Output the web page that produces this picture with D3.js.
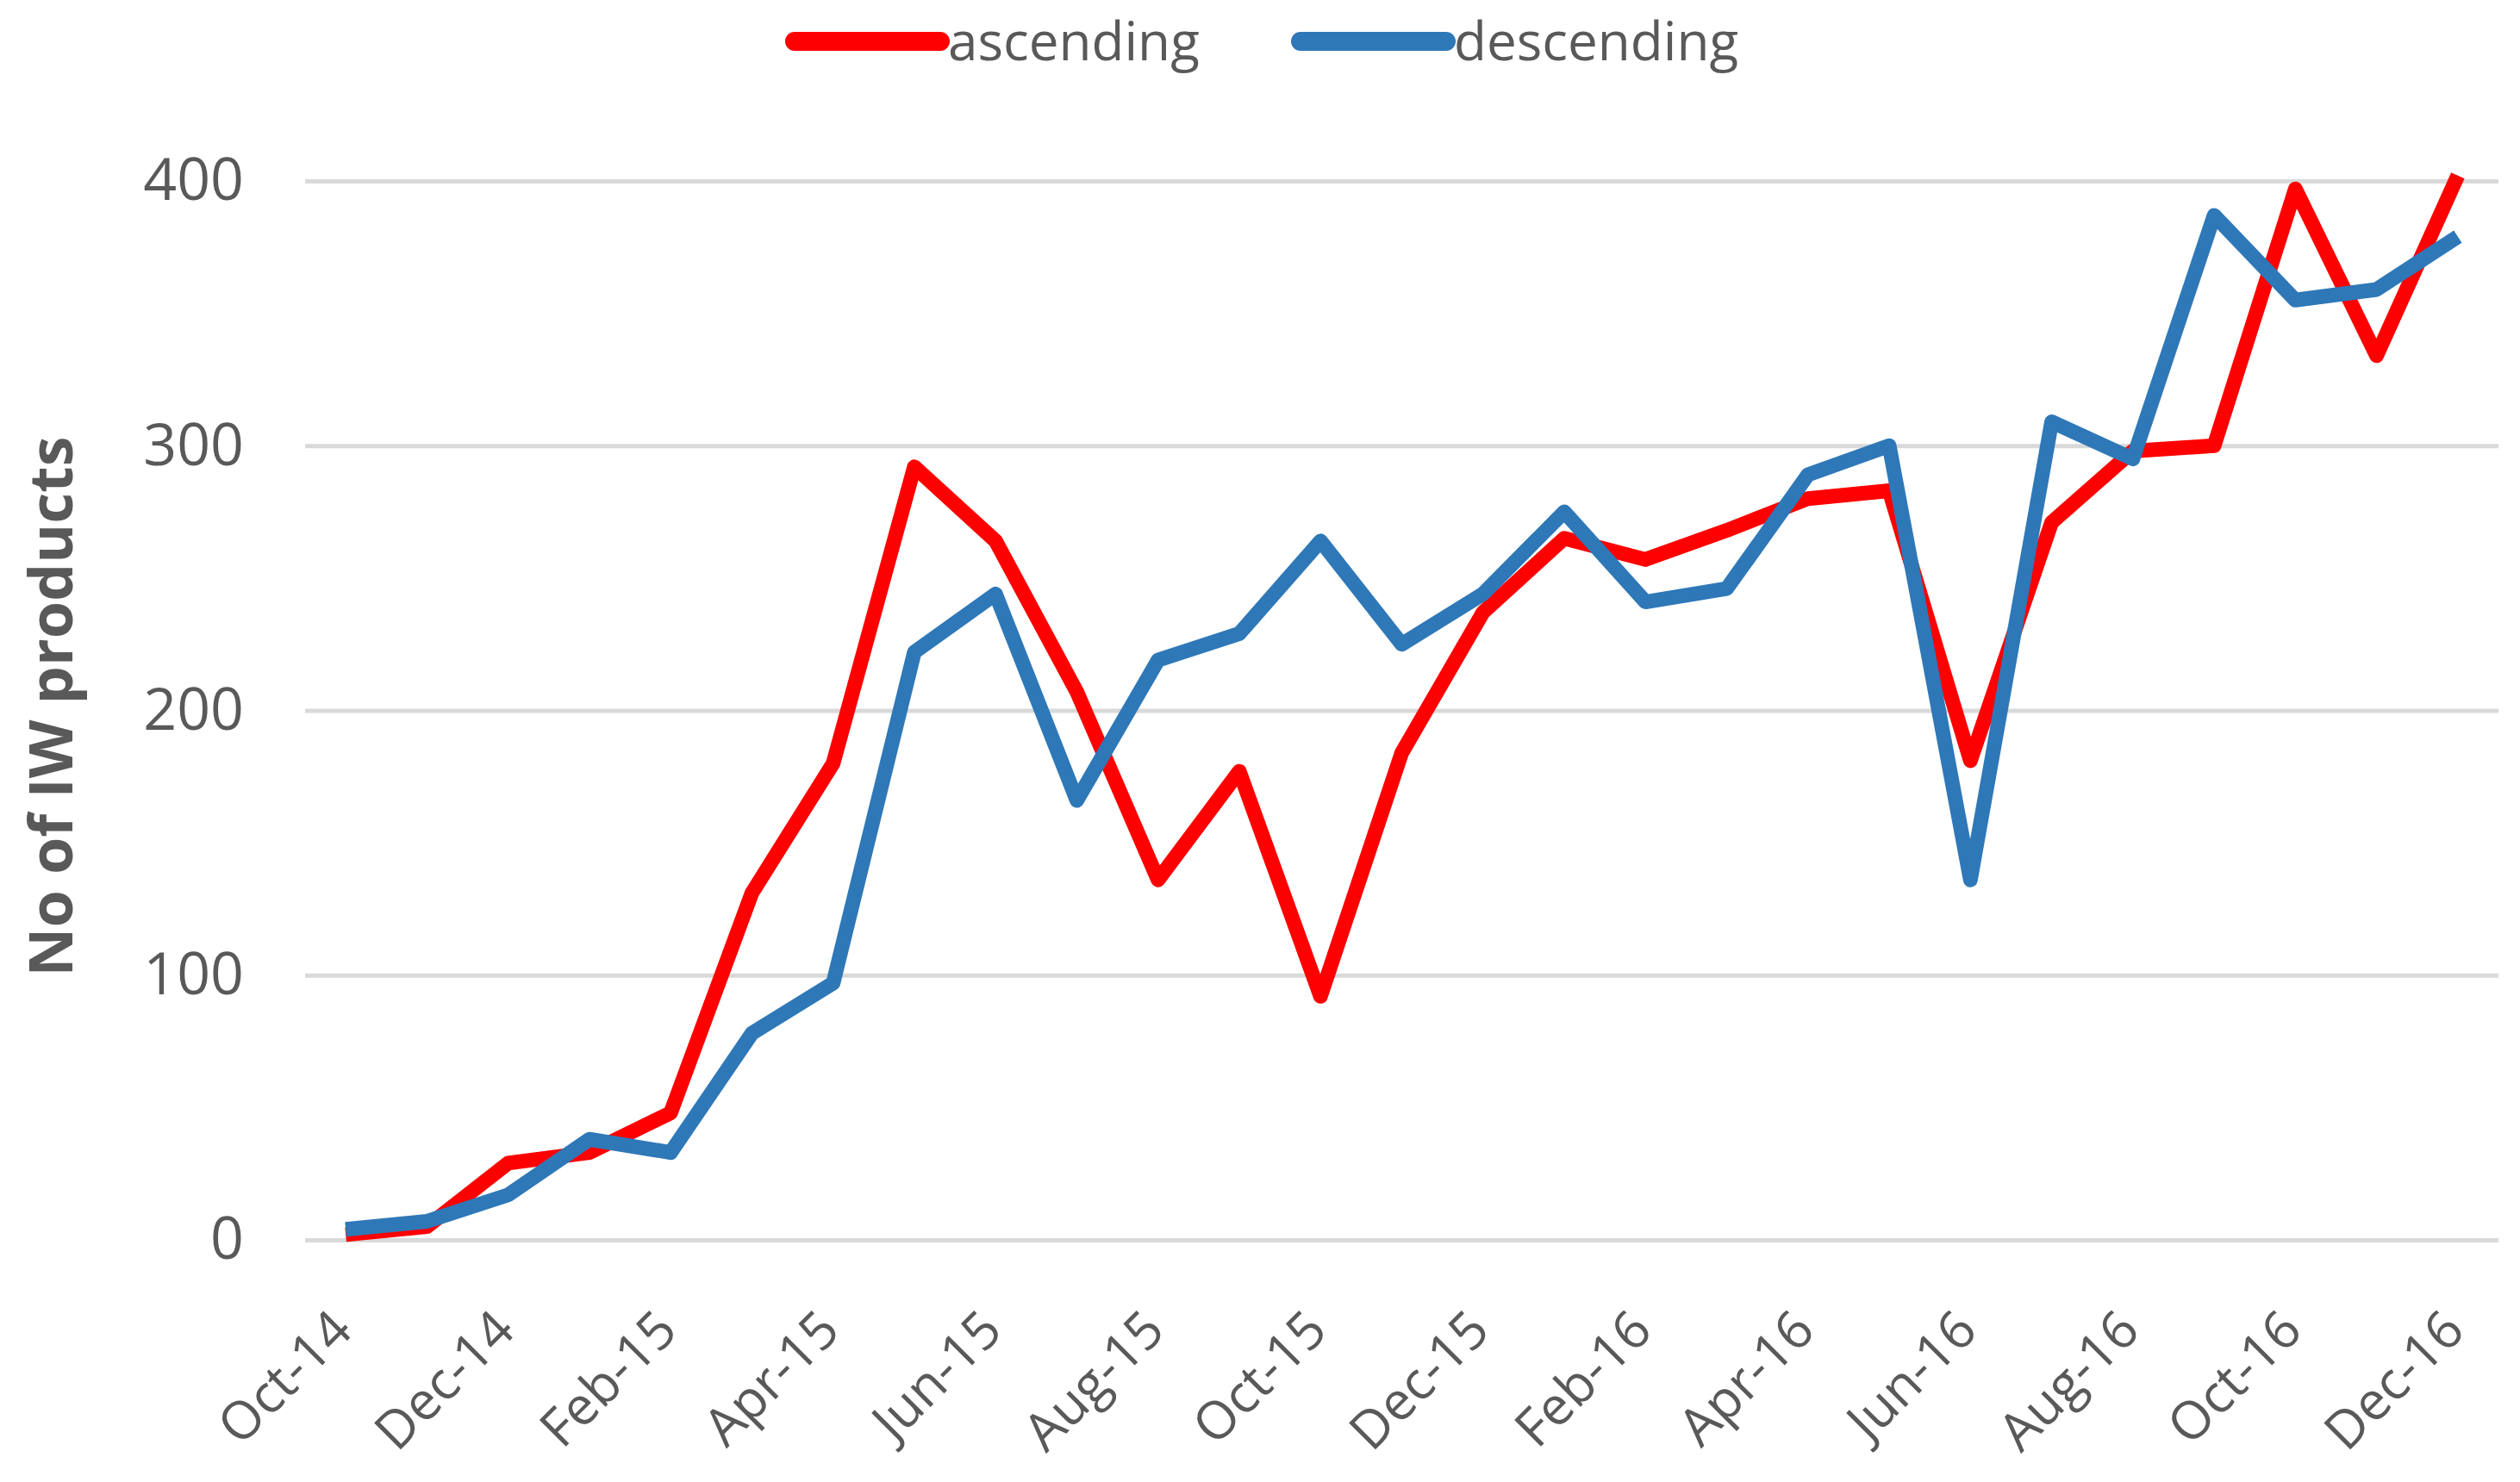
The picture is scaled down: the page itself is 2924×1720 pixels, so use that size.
<!DOCTYPE html>
<html>
<head>
<meta charset="utf-8">
<script src="https://cdn.jsdelivr.net/npm/d3@7"></script>
<style>
  body { margin: 0; background: #fff; }
  text { font-family: "Open Sans", sans-serif; fill: #595959; }
</style>
</head>
<body>
<svg id="chart"></svg>
<script>
// months Oct-14 .. Dec-16
var months = ["Oct-14","Nov-14","Dec-14","Jan-15","Feb-15","Mar-15","Apr-15","May-15","Jun-15","Jul-15","Aug-15","Sep-15",
  "Oct-15","Nov-15","Dec-15","Jan-16","Feb-16","Mar-16","Apr-16","May-16","Jun-16","Jul-16","Aug-16","Sep-16",
  "Oct-16","Nov-16","Dec-16"];
var ascending = [2,5,29,33,48,131,180,292,264,207,136,177,92,184,237,265,257,268,280,283,181,271,298,300,397,334,402];
var descending = [4,7,17,38,33,78,97,222,244,166,219,229,264,225,244,275,241,246,289,300,136,309,295,387,355,359,379];
var yTicks = [0,100,200,300,400];
var tickMonths = months.filter(function(d, i) { return i % 2 == 0; });

var svgWidth = 2924, svgHeight = 1720;
var plotLeft = 354, plotRight = 2899, plotTop = 210, plotBottom = 1439;

var svg = d3.select("#chart")
    .attr("width", svgWidth)
    .attr("height", svgHeight);

var x = d3.scalePoint()
    .domain(months)
    .range([plotLeft, plotRight])
    .padding(0.5);

var y = d3.scaleLinear()
    .domain([0, 400])
    .range([plotBottom, plotTop]);

// gridlines + y labels
var y_axis = d3.axisLeft(y)
    .tickValues(yTicks)
    .tickSize(-(plotRight - plotLeft))
    .tickPadding(71)
    .tickFormat(d3.format("d"));

var gy = svg.append("g")
    .attr("transform", "translate(" + plotLeft + ",0)")
    .call(y_axis);
gy.select(".domain").remove();
gy.selectAll(".tick line").attr("stroke", "#d9d9d9").attr("stroke-width", 5);
gy.selectAll(".tick text")
    .style("font-size", "68px")
    .style("font-family", "'Open Sans', sans-serif")
    .attr("fill", "#595959");

// x labels
var x_axis = d3.axisBottom(x)
    .tickValues(tickMonths)
    .tickSize(0);

var gx = svg.append("g")
    .attr("transform", "translate(0," + plotBottom + ")")
    .call(x_axis);
gx.select(".domain").remove();
gx.selectAll(".tick text")
    .style("font-size", "61px")
    .style("font-family", "'Open Sans', sans-serif")
    .attr("fill", "#595959")
    .attr("text-anchor", "end")
    .attr("dy", null)
    .attr("y", null)
    .attr("transform", "translate(10,108) rotate(-45)");

// y axis title
svg.append("text")
    .attr("transform", "translate(84,820) rotate(-90)")
    .attr("text-anchor", "middle")
    .style("font-size", "70px")
    .style("font-weight", "bold")
    .text("No of IW products");

var line = d3.line()
    .x(function(d, i) { return x(months[i]); })
    .y(function(d) { return y(d); });

svg.append("path")
    .datum(ascending)
    .attr("fill", "none")
    .attr("stroke", "#ff0000")
    .attr("stroke-width", 17)
    .attr("stroke-linejoin", "round")
    .attr("d", line);

svg.append("path")
    .datum(descending)
    .attr("fill", "none")
    .attr("stroke", "#2e78b8")
    .attr("stroke-width", 17)
    .attr("stroke-linejoin", "round")
    .attr("d", line);

// legend
var legend = [
  {name: "ascending", color: "#ff0000", x: 914},
  {name: "descending", color: "#2e78b8", x: 1501}
];
var lg = svg.selectAll(".legend")
    .data(legend)
    .enter()
    .append("g")
    .attr("class", "legend");
lg.append("line")
    .attr("x1", function(d) { return d.x + 8; })
    .attr("x2", function(d) { return d.x + 177; })
    .attr("y1", 48).attr("y2", 48)
    .attr("stroke", function(d) { return d.color; })
    .attr("stroke-width", 22)
    .attr("stroke-linecap", "round");
lg.append("text")
    .attr("x", function(d) { return d.x + 186; })
    .attr("y", 70)
    .style("font-size", "62px")
    .text(function(d) { return d.name; });
</script>
</body>
</html>
